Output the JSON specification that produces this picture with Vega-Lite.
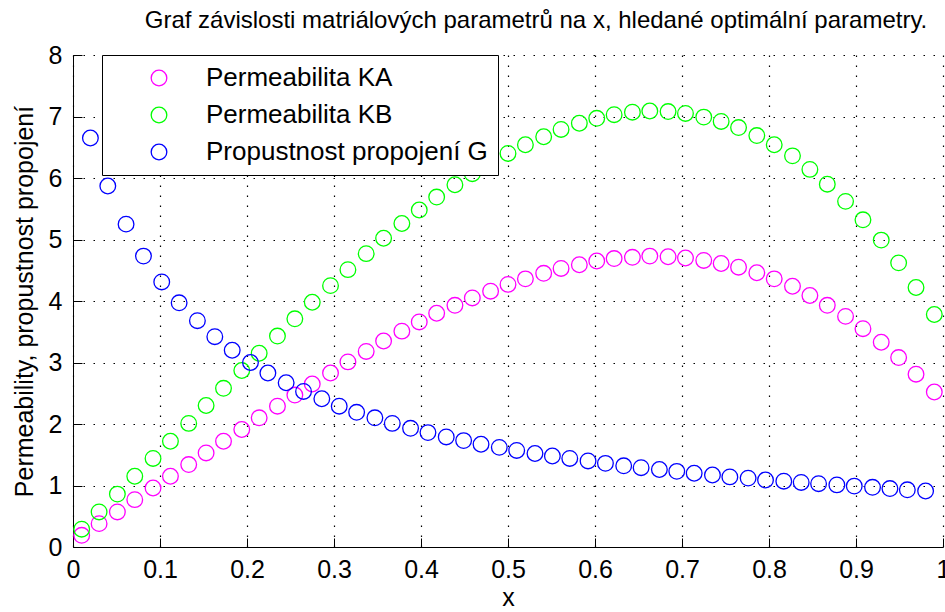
{
  "$schema": "https://vega.github.io/schema/vega-lite/v6.json",
  "autosize": {"type": "none"},
  "padding": {"left": 73, "top": 55, "right": 2, "bottom": 65},
  "width": 870,
  "height": 492,
  "background": "white",
  "title": {
    "text": "Graf závislosti matriálových parametrů na x, hledané optimální parametry.",
    "font": "Liberation Sans",
    "fontSize": 24,
    "fontWeight": "normal",
    "color": "#000000",
    "anchor": "middle",
    "baseline": "alphabetic",
    "offset": -9,
    "dx": 28
  },
  "datasets": {
    "pts": [
      {"s":"Permeabilita KA","x":0.010,"y":0.19},{"s":"Permeabilita KA","x":0.030,"y":0.38},{"s":"Permeabilita KA","x":0.051,"y":0.57},{"s":"Permeabilita KA","x":0.071,"y":0.77},{"s":"Permeabilita KA","x":0.092,"y":0.96},{"s":"Permeabilita KA","x":0.112,"y":1.15},{"s":"Permeabilita KA","x":0.133,"y":1.34},{"s":"Permeabilita KA","x":0.153,"y":1.53},{"s":"Permeabilita KA","x":0.173,"y":1.72},{"s":"Permeabilita KA","x":0.194,"y":1.91},
      {"s":"Permeabilita KA","x":0.214,"y":2.10},{"s":"Permeabilita KA","x":0.235,"y":2.29},{"s":"Permeabilita KA","x":0.255,"y":2.47},{"s":"Permeabilita KA","x":0.275,"y":2.65},{"s":"Permeabilita KA","x":0.296,"y":2.83},{"s":"Permeabilita KA","x":0.316,"y":3.01},{"s":"Permeabilita KA","x":0.337,"y":3.18},{"s":"Permeabilita KA","x":0.357,"y":3.35},{"s":"Permeabilita KA","x":0.378,"y":3.51},{"s":"Permeabilita KA","x":0.398,"y":3.66},
      {"s":"Permeabilita KA","x":0.418,"y":3.80},{"s":"Permeabilita KA","x":0.439,"y":3.93},{"s":"Permeabilita KA","x":0.459,"y":4.05},{"s":"Permeabilita KA","x":0.480,"y":4.16},{"s":"Permeabilita KA","x":0.500,"y":4.27},{"s":"Permeabilita KA","x":0.520,"y":4.36},{"s":"Permeabilita KA","x":0.541,"y":4.45},{"s":"Permeabilita KA","x":0.561,"y":4.53},{"s":"Permeabilita KA","x":0.582,"y":4.59},{"s":"Permeabilita KA","x":0.602,"y":4.65},
      {"s":"Permeabilita KA","x":0.622,"y":4.69},{"s":"Permeabilita KA","x":0.643,"y":4.71},{"s":"Permeabilita KA","x":0.663,"y":4.73},{"s":"Permeabilita KA","x":0.684,"y":4.72},{"s":"Permeabilita KA","x":0.704,"y":4.70},{"s":"Permeabilita KA","x":0.725,"y":4.66},{"s":"Permeabilita KA","x":0.745,"y":4.61},{"s":"Permeabilita KA","x":0.765,"y":4.55},{"s":"Permeabilita KA","x":0.786,"y":4.46},{"s":"Permeabilita KA","x":0.806,"y":4.36},
      {"s":"Permeabilita KA","x":0.827,"y":4.24},{"s":"Permeabilita KA","x":0.847,"y":4.09},{"s":"Permeabilita KA","x":0.867,"y":3.93},{"s":"Permeabilita KA","x":0.888,"y":3.75},{"s":"Permeabilita KA","x":0.908,"y":3.55},{"s":"Permeabilita KA","x":0.929,"y":3.33},{"s":"Permeabilita KA","x":0.949,"y":3.08},{"s":"Permeabilita KA","x":0.969,"y":2.81},{"s":"Permeabilita KA","x":0.990,"y":2.52},

      {"s":"Permeabilita KB","x":0.010,"y":0.29},{"s":"Permeabilita KB","x":0.030,"y":0.57},{"s":"Permeabilita KB","x":0.051,"y":0.86},{"s":"Permeabilita KB","x":0.071,"y":1.15},{"s":"Permeabilita KB","x":0.092,"y":1.44},{"s":"Permeabilita KB","x":0.112,"y":1.72},{"s":"Permeabilita KB","x":0.133,"y":2.01},{"s":"Permeabilita KB","x":0.153,"y":2.30},{"s":"Permeabilita KB","x":0.173,"y":2.58},{"s":"Permeabilita KB","x":0.194,"y":2.87},
      {"s":"Permeabilita KB","x":0.214,"y":3.15},{"s":"Permeabilita KB","x":0.235,"y":3.43},{"s":"Permeabilita KB","x":0.255,"y":3.71},{"s":"Permeabilita KB","x":0.275,"y":3.98},{"s":"Permeabilita KB","x":0.296,"y":4.25},{"s":"Permeabilita KB","x":0.316,"y":4.51},{"s":"Permeabilita KB","x":0.337,"y":4.77},{"s":"Permeabilita KB","x":0.357,"y":5.02},{"s":"Permeabilita KB","x":0.378,"y":5.26},{"s":"Permeabilita KB","x":0.398,"y":5.48},
      {"s":"Permeabilita KB","x":0.418,"y":5.69},{"s":"Permeabilita KB","x":0.439,"y":5.89},{"s":"Permeabilita KB","x":0.459,"y":6.07},{"s":"Permeabilita KB","x":0.480,"y":6.24},{"s":"Permeabilita KB","x":0.500,"y":6.40},{"s":"Permeabilita KB","x":0.520,"y":6.54},{"s":"Permeabilita KB","x":0.541,"y":6.67},{"s":"Permeabilita KB","x":0.561,"y":6.79},{"s":"Permeabilita KB","x":0.582,"y":6.89},{"s":"Permeabilita KB","x":0.602,"y":6.97},
      {"s":"Permeabilita KB","x":0.622,"y":7.03},{"s":"Permeabilita KB","x":0.643,"y":7.07},{"s":"Permeabilita KB","x":0.663,"y":7.09},{"s":"Permeabilita KB","x":0.684,"y":7.08},{"s":"Permeabilita KB","x":0.704,"y":7.05},{"s":"Permeabilita KB","x":0.725,"y":6.99},{"s":"Permeabilita KB","x":0.745,"y":6.92},{"s":"Permeabilita KB","x":0.765,"y":6.82},{"s":"Permeabilita KB","x":0.786,"y":6.69},{"s":"Permeabilita KB","x":0.806,"y":6.54},
      {"s":"Permeabilita KB","x":0.827,"y":6.36},{"s":"Permeabilita KB","x":0.847,"y":6.14},{"s":"Permeabilita KB","x":0.867,"y":5.90},{"s":"Permeabilita KB","x":0.888,"y":5.62},{"s":"Permeabilita KB","x":0.908,"y":5.32},{"s":"Permeabilita KB","x":0.929,"y":4.99},{"s":"Permeabilita KB","x":0.949,"y":4.62},{"s":"Permeabilita KB","x":0.969,"y":4.22},{"s":"Permeabilita KB","x":0.990,"y":3.78},

      {"s":"Propustnost propojení G","x":0.020,"y":6.65},{"s":"Propustnost propojení G","x":0.040,"y":5.87},{"s":"Propustnost propojení G","x":0.061,"y":5.25},{"s":"Propustnost propojení G","x":0.081,"y":4.73},{"s":"Propustnost propojení G","x":0.102,"y":4.31},{"s":"Propustnost propojení G","x":0.122,"y":3.97},{"s":"Propustnost propojení G","x":0.143,"y":3.68},{"s":"Propustnost propojení G","x":0.163,"y":3.42},{"s":"Propustnost propojení G","x":0.183,"y":3.20},{"s":"Propustnost propojení G","x":0.204,"y":3.00},
      {"s":"Propustnost propojení G","x":0.224,"y":2.83},{"s":"Propustnost propojení G","x":0.245,"y":2.67},{"s":"Propustnost propojení G","x":0.265,"y":2.53},{"s":"Propustnost propojení G","x":0.286,"y":2.41},{"s":"Propustnost propojení G","x":0.306,"y":2.29},{"s":"Propustnost propojení G","x":0.326,"y":2.19},{"s":"Propustnost propojení G","x":0.347,"y":2.10},{"s":"Propustnost propojení G","x":0.367,"y":2.01},{"s":"Propustnost propojení G","x":0.388,"y":1.93},{"s":"Propustnost propojení G","x":0.408,"y":1.86},
      {"s":"Propustnost propojení G","x":0.429,"y":1.79},{"s":"Propustnost propojení G","x":0.449,"y":1.73},{"s":"Propustnost propojení G","x":0.469,"y":1.67},{"s":"Propustnost propojení G","x":0.490,"y":1.62},{"s":"Propustnost propojení G","x":0.510,"y":1.57},{"s":"Propustnost propojení G","x":0.531,"y":1.52},{"s":"Propustnost propojení G","x":0.551,"y":1.48},{"s":"Propustnost propojení G","x":0.571,"y":1.44},{"s":"Propustnost propojení G","x":0.592,"y":1.40},{"s":"Propustnost propojení G","x":0.612,"y":1.36},
      {"s":"Propustnost propojení G","x":0.633,"y":1.32},{"s":"Propustnost propojení G","x":0.653,"y":1.29},{"s":"Propustnost propojení G","x":0.674,"y":1.26},{"s":"Propustnost propojení G","x":0.694,"y":1.23},{"s":"Propustnost propojení G","x":0.714,"y":1.20},{"s":"Propustnost propojení G","x":0.735,"y":1.17},{"s":"Propustnost propojení G","x":0.755,"y":1.14},{"s":"Propustnost propojení G","x":0.776,"y":1.12},{"s":"Propustnost propojení G","x":0.796,"y":1.09},{"s":"Propustnost propojení G","x":0.817,"y":1.07},
      {"s":"Propustnost propojení G","x":0.837,"y":1.05},{"s":"Propustnost propojení G","x":0.857,"y":1.03},{"s":"Propustnost propojení G","x":0.878,"y":1.01},{"s":"Propustnost propojení G","x":0.898,"y":0.99},{"s":"Propustnost propojení G","x":0.919,"y":0.97},{"s":"Propustnost propojení G","x":0.939,"y":0.95},{"s":"Propustnost propojení G","x":0.959,"y":0.93},{"s":"Propustnost propojení G","x":0.980,"y":0.91}
    ]
  },
  "data": {"name": "pts"},
  "mark": {"type": "point", "shape": "circle", "filled": false, "size": 245, "strokeWidth": 1.3, "opacity": 1},
  "encoding": {
    "x": {
      "field": "x", "type": "quantitative",
      "scale": {"domain": [0, 1], "nice": false, "zero": false},
      "axis": {
        "title": "x",
        "values": [0, 0.1, 0.2, 0.3, 0.4, 0.5, 0.6, 0.7, 0.8, 0.9, 1],
        "format": "~g",
        "labelPadding": 19,
        "titleX": 435, "titleY": 58, "titleBaseline": "alphabetic", "titleAlign": "center"
      }
    },
    "y": {
      "field": "y", "type": "quantitative",
      "scale": {"domain": [0, 8], "nice": false, "zero": false},
      "axis": {
        "title": "Permeability, propustnost propojení",
        "values": [0, 1, 2, 3, 4, 5, 6, 7, 8],
        "labelPadding": 20,
        "titleX": -49, "titleY": 246, "titleAngle": -90, "titleBaseline": "middle", "titleAlign": "center"
      }
    },
    "color": {
      "field": "s", "type": "nominal",
      "scale": {"domain": ["Permeabilita KA", "Permeabilita KB", "Propustnost propojení G"], "range": ["#ff00ff", "#00ff00", "#0000ff"]},
      "legend": {
        "title": null,
        "orient": "none",
        "legendX": 29,
        "legendY": 0,
        "padding": 10,
        "fillColor": "white",
        "strokeColor": "#000000",
        "symbolType": "circle",
        "symbolSize": 245,
        "symbolStrokeWidth": 1.3,
        "symbolOffset": 34,
        "labelOffset": 34,
        "labelFont": "Liberation Sans",
        "labelFontSize": 26,
        "labelColor": "#000000",
        "labelLimit": 400,
        "rowPadding": 11
      }
    }
  },
  "config": {
    "view": {"stroke": null},
    "axis": {
      "domainColor": "#000000",
      "domainWidth": 1,
      "tickColor": "#000000",
      "tickSize": -9,
      "tickWidth": 1,
      "labelFont": "Liberation Sans",
      "labelFontSize": 25,
      "labelColor": "#000000",
      "titleFont": "Liberation Sans",
      "titleFontSize": 25,
      "titleFontWeight": "normal",
      "titleColor": "#000000",
      "grid": true,
      "gridColor": "#000000",
      "gridDash": [1.5, 8.5],
      "gridWidth": 1.2,
      "gridOpacity": 1,
      "labelFlush": false,
      "labelOverlap": false
    }
  }
}
